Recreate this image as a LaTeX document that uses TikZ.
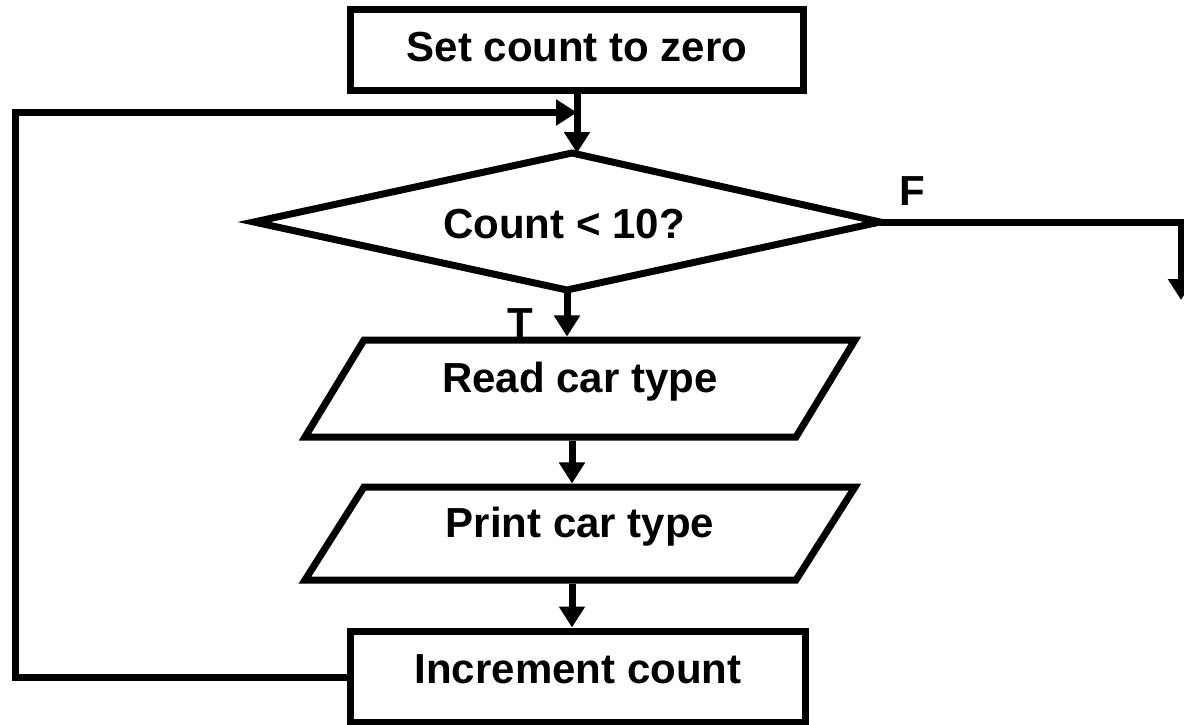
\documentclass[tikz,border=0pt]{standalone}
\usepackage{fontspec}
\setmainfont{Liberation Sans}
\usetikzlibrary{shapes.geometric,arrows.meta}

\newcommand{\flowfont}{\bfseries\fontsize{42}{50}\selectfont}

\tikzset{
  shapeline/.style={draw, line width=7pt, inner sep=0pt, font=\flowfont,
                    text height=30pt, text depth=0pt},
  procbox/.style={shapeline, rectangle},
  outline/.style={line width=7pt, line join=miter},
  iobox/.style={shapeline, trapezium, trapezium left angle=41.4,
                trapezium right angle=138.6, trapezium stretches body,
                text depth=22pt},
  flow/.style={line width=7pt, -{Triangle[length=21pt,width=25pt]}},
  label/.style={font=\flowfont, inner sep=0pt, text height=30pt, text depth=0pt},
}

\begin{document}
\begin{tikzpicture}[x=1pt,y=-1pt]
  \useasboundingbox (0,0) rectangle (1184,725);

  % process steps
  \node[procbox, minimum width=453, minimum height=81, text depth=7pt] (start) at (577,50.5) {Set count to zero};

  % decision diamond, drawn from its four corners
  \coordinate (test-n) at (572,153);
  \coordinate (test-e) at (880,222);
  \coordinate (test-s) at (567,290);
  \coordinate (test-w) at (254,222);
  \draw[outline] (test-n) -- (test-e) -- (test-s) -- (test-w) -- cycle;
  \node[label] (test) at (564,223) {Count < 10?};

  \node[iobox, minimum width=550, minimum height=97] (read) at (580,388.5) {Read car type};
  \node[iobox, minimum width=550, minimum height=93] (print) at (580,533.5) {Print car type};
  \node[procbox, minimum width=455, minimum height=91, text depth=17pt] (inc) at (578,676.5) {Increment count};

  % routing points
  \coordinate (join) at (577,112.5);
  \coordinate (entry) at (577,153);
  \coordinate (loopcorner) at (15,112.5);
  \coordinate (exitend) at (1181,300);
  \coordinate (col) at (572,0);

  % branch labels
  \node[label] (flab) at (912,190) {F};
  \node[label] (tlab) at (520,322) {T};

  % connectors
  \draw[line width=7pt] (start.south -| join) -- (join);
  \draw[flow] (join) -- (entry);
  \draw[flow] (inc.west |- 0,677.5) -| (loopcorner) -- (join);
  \draw[flow] (test-e) -- (test-e -| exitend) -- (exitend);
  \draw[flow] (test-s) -- (test-s |- read.north);
  \draw[flow] (read.south -| col) -- (print.north -| col);
  \draw[flow] (print.south -| col) -- (inc.north -| col);
\end{tikzpicture}
\end{document}
